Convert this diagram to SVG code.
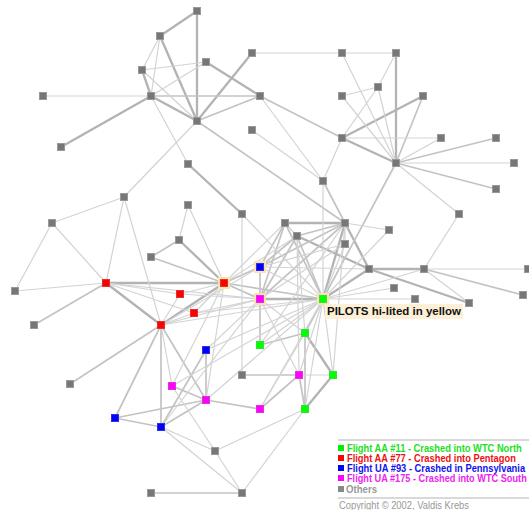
<svg xmlns="http://www.w3.org/2000/svg" width="529" height="510" viewBox="0 0 529 510">
<style>
.l{stroke:#d3d3d3;stroke-width:1.2;fill:none}
.m{stroke:#c3c3c3;stroke-width:1.7;fill:none}
.t{stroke:#b3b3b3;stroke-width:2.3;fill:none}
.o{fill:#777;stroke:#999;stroke-width:1}
.gr{fill:#00ff00;stroke:#33e033;stroke-width:1}
.rd{fill:#ff0000;stroke:#e03030;stroke-width:1}
.bl{fill:#0000ff;stroke:#3030e0;stroke-width:1}
.mg{fill:#ff00ff;stroke:#e030e0;stroke-width:1}
.halo{fill:#fbe2b0}
.lg{font-family:"Liberation Sans",Arial,sans-serif;font-weight:bold;font-size:10px}
</style>
<rect width="529" height="510" fill="#fff"/>
<g id="connectors">
<!-- thick -->
<line class="t" x1="197" y1="11" x2="160" y2="36"/>
<line class="t" x1="197" y1="11" x2="197" y2="121"/>
<line class="t" x1="160" y1="36" x2="197" y2="121"/>
<line class="t" x1="142" y1="70" x2="151" y2="96"/>
<line class="t" x1="206" y1="62" x2="260" y2="96"/>
<line class="t" x1="151" y1="96" x2="197" y2="121"/>
<line class="t" x1="151" y1="96" x2="61" y2="147"/>
<line class="t" x1="252" y1="53" x2="197" y2="121"/>
<line class="t" x1="188" y1="164" x2="242" y2="214"/>
<line class="t" x1="396" y1="53" x2="396" y2="163"/>
<line class="t" x1="423" y1="96" x2="342" y2="138"/>
<line class="t" x1="342" y1="138" x2="396" y2="163"/>
<line class="t" x1="285" y1="223" x2="345" y2="223"/>
<line class="t" x1="345" y1="223" x2="369" y2="269"/>
<line class="t" x1="369" y1="269" x2="424" y2="269"/>
<line class="t" x1="369" y1="269" x2="469" y2="303"/>
<line class="t" x1="323" y1="299" x2="369" y2="269"/>
<line class="t" x1="323" y1="299" x2="345" y2="223"/>
<line class="t" x1="106" y1="283" x2="224" y2="283"/>
<line class="t" x1="106" y1="283" x2="161" y2="325"/>
<line class="t" x1="224" y1="283" x2="161" y2="325"/>
<line class="t" x1="224" y1="283" x2="179" y2="240"/>
<line class="t" x1="260" y1="299" x2="323" y2="299"/>
<line class="t" x1="333" y1="375" x2="305" y2="409"/>
<line class="t" x1="305" y1="333" x2="333" y2="375"/>
<line class="t" x1="297" y1="236" x2="369" y2="269"/>
<!-- medium -->
<line class="m" x1="151" y1="96" x2="260" y2="96"/>
<line class="m" x1="260" y1="96" x2="197" y2="121"/>
<line class="m" x1="197" y1="121" x2="345" y2="223"/>
<line class="m" x1="260" y1="96" x2="342" y2="138"/>
<line class="m" x1="423" y1="96" x2="396" y2="163"/>
<line class="m" x1="496" y1="138" x2="396" y2="163"/>
<line class="m" x1="396" y1="163" x2="496" y2="189"/>
<line class="m" x1="297" y1="236" x2="345" y2="223"/>
<line class="m" x1="424" y1="269" x2="523" y2="295"/>
<line class="m" x1="323" y1="299" x2="396" y2="163"/>
<line class="m" x1="323" y1="181" x2="345" y2="223"/>
<line class="m" x1="151" y1="257" x2="224" y2="283"/>
<line class="m" x1="260" y1="267" x2="260" y2="299"/>
<line class="m" x1="224" y1="283" x2="260" y2="299"/>
<line class="m" x1="323" y1="299" x2="305" y2="333"/>
<line class="m" x1="260" y1="345" x2="305" y2="333"/>
<line class="m" x1="260" y1="299" x2="260" y2="345"/>
<line class="m" x1="260" y1="267" x2="345" y2="223"/>
<line class="m" x1="260" y1="299" x2="345" y2="223"/>
<line class="m" x1="260" y1="299" x2="285" y2="223"/>
<line class="m" x1="260" y1="267" x2="285" y2="223"/>
<line class="m" x1="323" y1="299" x2="285" y2="223"/>
<line class="m" x1="323" y1="299" x2="297" y2="236"/>
<line class="m" x1="260" y1="299" x2="297" y2="236"/>
<line class="m" x1="260" y1="267" x2="297" y2="236"/>
<line class="m" x1="224" y1="283" x2="323" y2="299"/>
<line class="m" x1="224" y1="283" x2="260" y2="267"/>
<line class="m" x1="34" y1="325" x2="106" y2="283"/>
<line class="m" x1="70" y1="384" x2="161" y2="325"/>
<line class="m" x1="161" y1="427" x2="161" y2="325"/>
<line class="m" x1="115" y1="418" x2="161" y2="325"/>
<line class="m" x1="115" y1="418" x2="206" y2="400"/>
<line class="m" x1="115" y1="418" x2="161" y2="427"/>
<line class="m" x1="161" y1="427" x2="206" y2="350"/>
<line class="m" x1="161" y1="427" x2="206" y2="400"/>
<line class="m" x1="206" y1="350" x2="206" y2="400"/>
<line class="m" x1="172" y1="386" x2="206" y2="400"/>
<line class="m" x1="206" y1="400" x2="260" y2="409"/>
<line class="m" x1="242" y1="375" x2="299" y2="375"/>
<line class="m" x1="305" y1="333" x2="305" y2="409"/>
<line class="m" x1="260" y1="409" x2="299" y2="375"/>
<line class="m" x1="299" y1="375" x2="305" y2="409"/>
<line class="m" x1="151" y1="493" x2="242" y2="493"/>
<line class="m" x1="179" y1="240" x2="151" y2="257"/>
<line class="m" x1="161" y1="325" x2="206" y2="400"/>
<!-- light -->
<line class="l" x1="160" y1="36" x2="142" y2="70"/>
<line class="l" x1="160" y1="36" x2="151" y2="96"/>
<line class="l" x1="142" y1="70" x2="206" y2="62"/>
<line class="l" x1="142" y1="70" x2="197" y2="121"/>
<line class="l" x1="206" y1="62" x2="151" y2="96"/>
<line class="l" x1="43" y1="96" x2="151" y2="96"/>
<line class="l" x1="151" y1="96" x2="188" y2="164"/>
<line class="l" x1="252" y1="53" x2="342" y2="53"/>
<line class="l" x1="197" y1="121" x2="124" y2="197"/>
<line class="l" x1="260" y1="96" x2="323" y2="181"/>
<line class="l" x1="252" y1="130" x2="323" y2="181"/>
<line class="l" x1="342" y1="53" x2="396" y2="53"/>
<line class="l" x1="342" y1="53" x2="396" y2="163"/>
<line class="l" x1="396" y1="53" x2="378" y2="87"/>
<line class="l" x1="378" y1="87" x2="342" y2="96"/>
<line class="l" x1="378" y1="87" x2="342" y2="138"/>
<line class="l" x1="378" y1="87" x2="396" y2="163"/>
<line class="l" x1="342" y1="96" x2="396" y2="163"/>
<line class="l" x1="342" y1="138" x2="441" y2="138"/>
<line class="l" x1="441" y1="138" x2="396" y2="163"/>
<line class="l" x1="396" y1="163" x2="514" y2="163"/>
<line class="l" x1="342" y1="138" x2="323" y2="181"/>
<line class="l" x1="396" y1="163" x2="459" y2="214"/>
<line class="l" x1="345" y1="223" x2="389" y2="230"/>
<line class="l" x1="424" y1="269" x2="527" y2="269"/>
<line class="l" x1="424" y1="269" x2="469" y2="303"/>
<line class="l" x1="260" y1="267" x2="369" y2="269"/>
<line class="l" x1="323" y1="299" x2="424" y2="269"/>
<line class="l" x1="323" y1="299" x2="415" y2="299"/>
<line class="l" x1="323" y1="181" x2="323" y2="299"/>
<line class="l" x1="459" y1="214" x2="424" y2="269"/>
<line class="l" x1="323" y1="299" x2="394" y2="288"/>
<line class="l" x1="188" y1="205" x2="224" y2="283"/>
<line class="l" x1="188" y1="205" x2="179" y2="240"/>
<line class="l" x1="180" y1="294" x2="224" y2="283"/>
<line class="l" x1="194" y1="313" x2="224" y2="283"/>
<line class="l" x1="180" y1="294" x2="106" y2="283"/>
<line class="l" x1="194" y1="313" x2="106" y2="283"/>
<line class="l" x1="180" y1="294" x2="161" y2="325"/>
<line class="l" x1="194" y1="313" x2="161" y2="325"/>
<line class="l" x1="194" y1="313" x2="323" y2="299"/>
<line class="l" x1="161" y1="325" x2="260" y2="299"/>
<line class="l" x1="161" y1="325" x2="323" y2="299"/>
<line class="l" x1="161" y1="325" x2="260" y2="267"/>
<line class="l" x1="106" y1="283" x2="260" y2="299"/>
<line class="l" x1="260" y1="267" x2="323" y2="299"/>
<line class="l" x1="260" y1="267" x2="345" y2="244"/>
<line class="l" x1="260" y1="299" x2="345" y2="244"/>
<line class="l" x1="323" y1="299" x2="345" y2="244"/>
<line class="l" x1="224" y1="283" x2="297" y2="236"/>
<line class="l" x1="224" y1="283" x2="285" y2="223"/>
<line class="l" x1="323" y1="299" x2="260" y2="345"/>
<line class="l" x1="260" y1="299" x2="305" y2="333"/>
<line class="l" x1="323" y1="299" x2="299" y2="375"/>
<line class="l" x1="323" y1="299" x2="333" y2="375"/>
<line class="l" x1="260" y1="299" x2="299" y2="375"/>
<line class="l" x1="124" y1="197" x2="52" y2="223"/>
<line class="l" x1="124" y1="197" x2="106" y2="283"/>
<line class="l" x1="124" y1="197" x2="161" y2="325"/>
<line class="l" x1="52" y1="223" x2="106" y2="283"/>
<line class="l" x1="52" y1="223" x2="15" y2="291"/>
<line class="l" x1="15" y1="291" x2="106" y2="283"/>
<line class="l" x1="161" y1="427" x2="215" y2="451"/>
<line class="l" x1="161" y1="427" x2="242" y2="493"/>
<line class="l" x1="172" y1="386" x2="215" y2="451"/>
<line class="l" x1="215" y1="451" x2="242" y2="493"/>
<line class="l" x1="215" y1="451" x2="305" y2="409"/>
<line class="l" x1="242" y1="493" x2="305" y2="409"/>
<line class="l" x1="194" y1="313" x2="260" y2="299"/>
<line class="l" x1="242" y1="214" x2="242" y2="375"/>
<line class="l" x1="242" y1="214" x2="323" y2="299"/>
<line class="l" x1="206" y1="350" x2="260" y2="299"/>
<line class="l" x1="224" y1="283" x2="172" y2="386"/>
<line class="l" x1="224" y1="283" x2="206" y2="400"/>
<line class="l" x1="172" y1="386" x2="161" y2="325"/>
<line class="l" x1="299" y1="375" x2="297" y2="236"/>
<line class="l" x1="333" y1="375" x2="345" y2="223"/>
<line class="l" x1="305" y1="333" x2="297" y2="236"/>
<line class="l" x1="305" y1="409" x2="323" y2="299"/>
<line class="l" x1="299" y1="375" x2="333" y2="375"/>
<line class="l" x1="389" y1="230" x2="323" y2="299"/>
<line class="l" x1="345" y1="244" x2="345" y2="223"/>
<line class="l" x1="206" y1="350" x2="323" y2="299"/>
<line class="l" x1="172" y1="386" x2="323" y2="299"/>
<line class="l" x1="206" y1="400" x2="323" y2="299"/>
<line class="l" x1="260" y1="409" x2="323" y2="299"/>
<line class="l" x1="161" y1="427" x2="260" y2="299"/>
<line class="l" x1="285" y1="223" x2="297" y2="236"/>
<line class="l" x1="180" y1="294" x2="260" y2="299"/>
<line class="l" x1="260" y1="345" x2="345" y2="223"/>
<line class="l" x1="260" y1="409" x2="305" y2="333"/>
</g>
<g id="n1"><rect class="o" x="193.5" y="7.5" width="7" height="7"/></g>
<g id="n2"><rect class="o" x="156.5" y="32.5" width="7" height="7"/></g>
<g id="n3"><rect class="o" x="202.5" y="58.5" width="7" height="7"/></g>
<g id="n4"><rect class="o" x="138.5" y="66.5" width="7" height="7"/></g>
<g id="n5"><rect class="o" x="39.5" y="92.5" width="7" height="7"/></g>
<g id="n6"><rect class="o" x="147.5" y="92.5" width="7" height="7"/></g>
<g id="n7"><rect class="o" x="248.5" y="49.5" width="7" height="7"/></g>
<g id="n8"><rect class="o" x="256.5" y="92.5" width="7" height="7"/></g>
<g id="n9"><rect class="o" x="193.5" y="117.5" width="7" height="7"/></g>
<g id="n10"><rect class="o" x="248.5" y="126.5" width="7" height="7"/></g>
<g id="n11"><rect class="o" x="57.5" y="143.5" width="7" height="7"/></g>
<g id="n12"><rect class="o" x="184.5" y="160.5" width="7" height="7"/></g>
<g id="n13"><rect class="o" x="338.5" y="49.5" width="7" height="7"/></g>
<g id="n14"><rect class="o" x="392.5" y="49.5" width="7" height="7"/></g>
<g id="n15"><rect class="o" x="374.5" y="83.5" width="7" height="7"/></g>
<g id="n16"><rect class="o" x="338.5" y="92.5" width="7" height="7"/></g>
<g id="n17"><rect class="o" x="419.5" y="92.5" width="7" height="7"/></g>
<g id="n18"><rect class="o" x="338.5" y="134.5" width="7" height="7"/></g>
<g id="n19"><rect class="o" x="437.5" y="134.5" width="7" height="7"/></g>
<g id="n20"><rect class="o" x="492.5" y="134.5" width="7" height="7"/></g>
<g id="n21"><rect class="o" x="392.5" y="159.5" width="7" height="7"/></g>
<g id="n22"><rect class="o" x="510.5" y="159.5" width="7" height="7"/></g>
<g id="n23"><rect class="o" x="120.5" y="193.5" width="7" height="7"/></g>
<g id="n24"><rect class="o" x="48.5" y="219.5" width="7" height="7"/></g>
<g id="n25"><rect class="o" x="184.5" y="201.5" width="7" height="7"/></g>
<g id="n26"><rect class="o" x="238.5" y="210.5" width="7" height="7"/></g>
<g id="n27"><rect class="o" x="175.5" y="236.5" width="7" height="7"/></g>
<g id="n28"><rect class="o" x="147.5" y="253.5" width="7" height="7"/></g>
<g id="n29"><rect class="o" x="11.5" y="287.5" width="7" height="7"/></g>
<g id="n30"><rect class="o" x="30.5" y="321.5" width="7" height="7"/></g>
<g id="n31"><rect class="o" x="319.5" y="177.5" width="7" height="7"/></g>
<g id="n32"><rect class="o" x="492.5" y="185.5" width="7" height="7"/></g>
<g id="n33"><rect class="o" x="455.5" y="210.5" width="7" height="7"/></g>
<g id="n34"><rect class="o" x="281.5" y="219.5" width="7" height="7"/></g>
<g id="n35"><rect class="o" x="341.5" y="219.5" width="7" height="7"/></g>
<g id="n36"><rect class="o" x="385.5" y="226.5" width="7" height="7"/></g>
<g id="n37"><rect class="o" x="293.5" y="232.5" width="7" height="7"/></g>
<g id="n38"><rect class="o" x="341.5" y="240.5" width="7" height="7"/></g>
<g id="n39"><rect class="o" x="365.5" y="265.5" width="7" height="7"/></g>
<g id="n40"><rect class="o" x="420.5" y="265.5" width="7" height="7"/></g>
<g id="n41"><rect class="o" x="524.5" y="265.5" width="7" height="7"/></g>
<g id="n42"><rect class="o" x="390.5" y="284.5" width="7" height="7"/></g>
<g id="n43"><rect class="o" x="411.5" y="295.5" width="7" height="7"/></g>
<g id="n44"><rect class="o" x="465.5" y="299.5" width="7" height="7"/></g>
<g id="n45"><rect class="o" x="519.5" y="291.5" width="7" height="7"/></g>
<g id="n46"><rect class="o" x="66.5" y="380.5" width="7" height="7"/></g>
<g id="n47"><rect class="o" x="238.5" y="371.5" width="7" height="7"/></g>
<g id="n48"><rect class="o" x="211.5" y="447.5" width="7" height="7"/></g>
<g id="n49"><rect class="o" x="147.5" y="489.5" width="7" height="7"/></g>
<g id="n50"><rect class="o" x="238.5" y="489.5" width="7" height="7"/></g>
<g id="r1"><rect class="rd" x="102.5" y="279.5" width="7" height="7"/></g>
<g id="r2"><rect class="halo" x="218" y="277" width="12" height="12"/><rect class="rd" x="220.5" y="279.5" width="7" height="7"/></g>
<g id="r3"><rect class="rd" x="176.5" y="290.5" width="7" height="7"/></g>
<g id="r4"><rect class="rd" x="190.5" y="309.5" width="7" height="7"/></g>
<g id="r5"><rect class="rd" x="157.5" y="321.5" width="7" height="7"/></g>
<g id="b1"><rect class="halo" x="254" y="261" width="12" height="12"/><rect class="bl" x="256.5" y="263.5" width="7" height="7"/></g>
<g id="b2"><rect class="bl" x="202.5" y="346.5" width="7" height="7"/></g>
<g id="b3"><rect class="bl" x="111.5" y="414.5" width="7" height="7"/></g>
<g id="b4"><rect class="bl" x="157.5" y="423.5" width="7" height="7"/></g>
<g id="m1"><rect class="halo" x="254" y="293" width="12" height="12"/><rect class="mg" x="256.5" y="295.5" width="7" height="7"/></g>
<g id="m2"><rect class="mg" x="168.5" y="382.5" width="7" height="7"/></g>
<g id="m3"><rect class="mg" x="202.5" y="396.5" width="7" height="7"/></g>
<g id="m4"><rect class="mg" x="256.5" y="405.5" width="7" height="7"/></g>
<g id="m5"><rect class="mg" x="295.5" y="371.5" width="7" height="7"/></g>
<g id="g1"><rect class="halo" x="317" y="293" width="12" height="12"/><rect class="gr" x="319.5" y="295.5" width="7" height="7"/></g>
<g id="g2"><rect class="gr" x="301.5" y="329.5" width="7" height="7"/></g>
<g id="g3"><rect class="gr" x="256.5" y="341.5" width="7" height="7"/></g>
<g id="g4"><rect class="gr" x="329.5" y="371.5" width="7" height="7"/></g>
<g id="g5"><rect class="gr" x="301.5" y="405.5" width="7" height="7"/></g>
<g id="pilots-label">
<rect x="325" y="304" width="138" height="15" fill="#fdf0d6"/>
<text class="lg" x="327" y="315" fill="#111" textLength="134" lengthAdjust="spacingAndGlyphs">PILOTS hi-lited in yellow</text>
</g>
<g id="legend">
<line x1="338" y1="440" x2="529" y2="440" stroke="#ccc" stroke-width="1.5"/>
<rect x="338" y="445" width="6" height="6" fill="#00ee00"/>
<text class="lg" transform="translate(347,451.5) scale(0.84,1)" fill="#22e022" textLength="208" lengthAdjust="spacingAndGlyphs">Flight AA #11 - Crashed into WTC North</text>
<rect x="338" y="455" width="6" height="6" fill="#ff0000"/>
<text class="lg" transform="translate(347,461.5) scale(0.84,1)" fill="#ee1111" textLength="201" lengthAdjust="spacingAndGlyphs">Flight AA #77 - Crashed into Pentagon</text>
<rect x="338" y="465" width="6" height="6" fill="#0000ff"/>
<text class="lg" transform="translate(347,471.5) scale(0.84,1)" fill="#1111ee" textLength="212" lengthAdjust="spacingAndGlyphs">Flight UA #93 - Crashed in Pennsylvania</text>
<rect x="338" y="475" width="6" height="6" fill="#ff00ff"/>
<text class="lg" transform="translate(347,481.5) scale(0.84,1)" fill="#ee22ee" textLength="214" lengthAdjust="spacingAndGlyphs">Flight UA #175 - Crashed into WTC South</text>
<rect x="338" y="486" width="6" height="6" fill="#888"/>
<text class="lg" x="346" y="492.5" fill="#999" textLength="31" lengthAdjust="spacingAndGlyphs">Others</text>
<line x1="338" y1="498" x2="529" y2="498" stroke="#ccc" stroke-width="1.5"/>
<text x="339" y="509" fill="#999" font-family="'Liberation Sans',Arial,sans-serif" font-size="10" textLength="130" lengthAdjust="spacingAndGlyphs">Copyright © 2002, Valdis Krebs</text>
</g>
</svg>
